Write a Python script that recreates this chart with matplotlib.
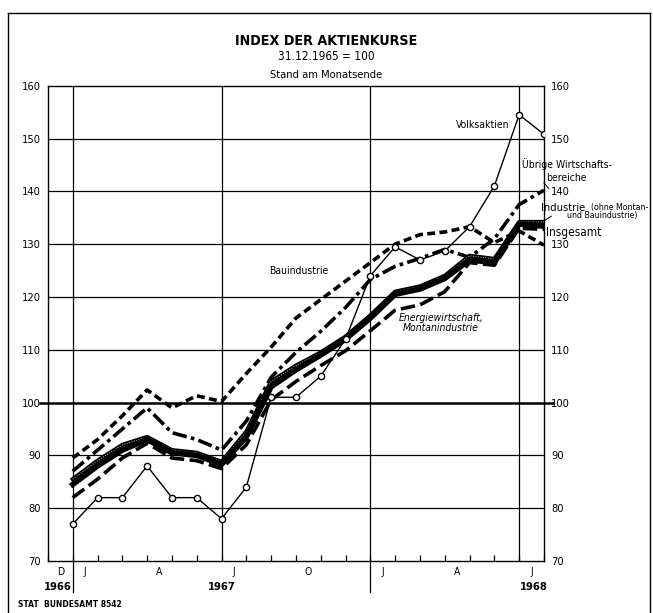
import matplotlib
matplotlib.use("Agg")
from matplotlib import pyplot as plt
from matplotlib.lines import Line2D
import matplotlib.transforms as mtransforms

plt.rcParams['font.family'] = ['DejaVu Sans']
plt.rcParams['font.stretch'] = 'condensed'

# month index 0 = end of Dec 1966 ... 19 = end of Jul 1968
months = list(range(20))
volksaktien = [77, 82, 82, 88, 82, 82, 78, 84, 101, 101, 105, 112, 124, 129.5, 127, 128.7, 133.3, 141, 154.5, 150.8]
bauindustrie = [89.5, 93, 97.5, 102.4, 99, 101.3, 100.2, 105.5, 110.5, 116, 119.5, 123, 126.5, 130, 131.8, 132.3, 133.3, 130.3, 132.5, 129.8]
uebrige = [87, 91, 95, 99, 94.3, 93, 91, 96.5, 104.8, 109.5, 113.5, 118, 123.3, 125.8, 127.3, 129, 127.5, 131, 137.5, 140.2]
industrie = [85.5, 89, 92, 93.5, 91, 90.5, 88.8, 94.5, 104, 107, 109.5, 112.5, 116.5, 121, 122, 124, 127.8, 127.2, 134.2, 134.2]
insgesamt = [84.5, 88, 91, 93, 90.5, 90, 88.3, 93.5, 103, 106.2, 109, 112, 116, 120.5, 121.5, 123.5, 127, 126.5, 133.8, 133.4]
energie = [82, 85.5, 89.5, 92.3, 89.5, 89, 87.5, 92, 100.5, 104, 107, 109.8, 113.6, 117.5, 118.5, 121, 126.5, 126, 133, 132.8]

month_labels = ["D", "J", "A", "J", "O", "J", "A", "J"]
month_label_pos = [-0.5, 0.5, 3.5, 6.5, 9.5, 12.5, 15.5, 18.5]
year_labels = ["1966", "1967", "1968"]
year_label_pos = [-0.6, 6, 18.6]
yticks = [70, 80, 90, 100, 110, 120, 130, 140, 150, 160]

fig = plt.figure(figsize=(6.53, 6.13), dpi=100)
ax = fig.add_axes([0.0734, 0.0848, 0.7596, 0.7754])
ax.set_xlim(-1, 19)
ax.set_ylim(70, 160)

# grid
for v in yticks[1:-1]:
    if v != 100:
        ax.axhline(v, color="black", lw=0.9, zorder=1)
ax.plot([-1.3, 19.35], [100, 100], color="black", lw=1.8, clip_on=False, zorder=1)
for xv in [0, 6, 12, 18]:
    ax.axvline(xv, color="black", lw=0.9, zorder=1)

trans = mtransforms.blended_transform_factory(ax.transData, ax.transAxes)
for xv in [0, 12]:
    ax.add_line(Line2D([xv, xv], [0, -0.065], transform=trans, color="black", lw=0.9, clip_on=False))

# series
ax.plot(months, bauindustrie, color="black", lw=2.6, ls=(0, (2.2, 1.2)), zorder=3)
ax.plot(months, uebrige, color="black", lw=2.6, ls=(0, (4.0, 1.2, 1.0, 1.2)), zorder=3)
ax.plot(months, energie, color="black", lw=2.6, ls=(0, (4.0, 1.5)), zorder=3)
ax.plot(months, industrie, color="black", lw=3.0, zorder=4)
ax.plot(months, industrie, color="white", lw=0.6, ls=(0, (1, 2)), zorder=4)
ax.plot(months, insgesamt, color="black", lw=4.0, zorder=4)
ax.plot(months, volksaktien, color="black", lw=1.0, marker="o", ms=4.5,
        mfc="white", mec="black", mew=1.0, zorder=5)

# axes ticks / labels
for s in ax.spines.values():
    s.set_linewidth(1.0)
ax.set_yticks(yticks)
ax.tick_params(axis="y", length=0, labelsize=8, pad=5, labelleft=True, labelright=True)
ax.set_xticks(range(-1, 20))
ax.set_xticklabels([])
ax.tick_params(axis="x", direction="in", length=4, width=0.9)

for lab, xv in zip(month_labels, month_label_pos):
    ax.text(xv, -0.024, lab, transform=trans, ha="center", va="center", fontsize=7.5)
for lab, xv in zip(year_labels, year_label_pos):
    ax.text(xv, -0.055, lab, transform=trans, ha="center", va="center", fontsize=8, fontweight="bold")

# series labels
ax.text(17.6, 152.6, "Volksaktien", ha="right", va="center", fontsize=7.5)
ax.text(18.1, 145.2, "Übrige Wirtschafts-", ha="left", va="center", fontsize=7.5)
ax.text(19.1, 142.6, "bereiche", ha="left", va="center", fontsize=7.5)
ax.plot([19.0, 19.2], [141.6, 140.5], color="black", lw=0.7, clip_on=False)
ax.text(18.9, 136.8, "Industrie", ha="left", va="center", fontsize=8)
fig.text(0.993, 0.662, "(ohne Montan-", ha="right", va="center", fontsize=6.3)
fig.text(0.922, 0.648, "und Bauindustrie)", ha="center", va="center", fontsize=6.3)
ax.plot([19.0, 19.3], [134.4, 135.3], color="black", lw=0.7, clip_on=False)
ax.text(19.1, 132.2, "Insgesamt", ha="left", va="center", fontsize=8.5)
ax.text(9.1, 125.0, "Bauindustrie", ha="center", va="center", fontsize=7.5)
ax.text(14.85, 115.0, "Energiewirtschaft,\nMontanindustrie", ha="center", va="center",
        fontsize=7.5, style="italic", linespacing=1.0)

# titles
fig.text(0.5, 0.933, "INDEX DER AKTIENKURSE", ha="center", va="center", fontsize=10.3, fontweight="bold")
fig.text(0.5, 0.908, "31.12.1965 = 100", ha="center", va="center", fontsize=8.5)
fig.text(0.5, 0.878, "Stand am Monatsende", ha="center", va="center", fontsize=8)
fig.text(0.028, 0.014, "STAT  BUNDESAMT 8542", ha="left", va="center", fontsize=6, fontweight="bold")

# outer frame
fig.add_artist(Line2D([0.012, 0.012], [0.0, 0.978], transform=fig.transFigure, color="black", lw=1.0))
fig.add_artist(Line2D([0.012, 0.996], [0.978, 0.978], transform=fig.transFigure, color="black", lw=1.0))
fig.add_artist(Line2D([0.996, 0.996], [0.0, 0.978], transform=fig.transFigure, color="black", lw=1.0))

fig.savefig("out.png", dpi=100)
